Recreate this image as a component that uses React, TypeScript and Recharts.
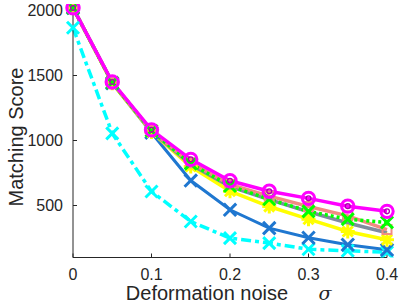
import React from "react";
import { LineChart, Line, XAxis, YAxis, Label } from "recharts";

const sigma = [0, 0.05, 0.1, 0.15, 0.2, 0.25, 0.3, 0.35, 0.4];
const magenta = [2020, 1450, 1082, 855, 690, 610, 555, 495, 455];
const green = [2020, 1445, 1075, 822, 650, 548, 455, 395, 370];
const salmon = [2020, 1445, 1075, 828, 662, 572, 492, 420, 315];
const gray = [2020, 1445, 1070, 815, 645, 545, 452, 365, 290];
const yellow = [2020, 1440, 1065, 800, 610, 492, 395, 300, 236];
const blue = [2020, 1440, 1060, 692, 467, 326, 252, 198, 159];
const cyan = [1867, 1055, 608, 377, 249, 211, 163, 152, 140];

const xTicks = [0, 0.1, 0.2, 0.3, 0.4];
const yTicks = [500, 1000, 1500, 2000];

const rows = sigma.map((s, i) => ({
  s,
  magenta: magenta[i],
  green: green[i],
  salmon: salmon[i],
  gray: gray[i],
  yellow: yellow[i],
  blue: blue[i],
  cyan: cyan[i],
}));

const FONT = "'Liberation Sans', Arial, sans-serif";
const AX = "#262626";

const xMark = (color: string, h: number, w: number) => (p: any) => {
  const { cx, cy, index } = p;
  return (
    <path
      key={index}
      d={`M${cx - h},${cy - h}L${cx + h},${cy + h}M${cx - h},${cy + h}L${cx + h},${cy - h}`}
      stroke={color}
      strokeWidth={w}
      fill="none"
    />
  );
};

const starMark = (color: string, h: number) => (p: any) => {
  const { cx, cy, index } = p;
  const d = h * 0.72;
  return (
    <path
      key={index}
      d={`M${cx - h},${cy}L${cx + h},${cy}M${cx},${cy - h}L${cx},${cy + h}M${cx - d},${cy - d}L${cx + d},${cy + d}M${cx - d},${cy + d}L${cx + d},${cy - d}`}
      stroke={color}
      strokeWidth={3}
      fill="none"
    />
  );
};

const squareMark = (color: string, h: number) => (p: any) => {
  const { cx, cy, index } = p;
  return (
    <rect key={index} x={cx - h} y={cy - h} width={2 * h} height={2 * h} stroke={color} strokeWidth={2} fill="none" />
  );
};

const circleMark = (color: string) => (p: any) => {
  const { cx, cy, index } = p;
  return (
    <g key={index}>
      <circle cx={cx} cy={cy} r={6.2} stroke={color} strokeWidth={3} fill="none" />
      <circle cx={cx} cy={cy} r={2.4} stroke="#b000b0" strokeWidth={1.3} fill="none" />
    </g>
  );
};

export default function App() {
  return (
    <div style={{ position: "absolute", left: 0, top: 0 }}>
      <LineChart width={399} height={306} data={rows} margin={{ top: 4, right: 12, bottom: 0, left: 0 }}>
        <XAxis
          dataKey="s"
          type="number"
          domain={[0, 0.4]}
          ticks={xTicks}
          height={48.5}
          tickSize={-4}
          tickMargin={15}
          stroke={AX}
          tick={{ fill: AX, fontSize: 16, fontFamily: FONT }}
        >
          <Label
            content={() => (
              <g>
                <text x={207} y={300} textAnchor="middle" fontSize={20} fontFamily={FONT} fill={AX}>
                  Deformation noise
                </text>
                <text x={325} y={300} textAnchor="middle" fontSize={19} fontStyle="italic" fontFamily="'DejaVu Serif', serif" fill={AX}>
                  σ
                </text>
              </g>
            )}
          />
        </XAxis>
        <YAxis
          type="number"
          domain={[100, 2050]}
          allowDataOverflow
          ticks={yTicks}
          width={73}
          tickSize={-4}
          tickMargin={14}
          stroke={AX}
          tick={{ fill: AX, fontSize: 16, fontFamily: FONT }}
        >
          <Label
            content={() => (
              <text
                x={16}
                y={137}
                transform="rotate(-90 16 137)"
                textAnchor="middle"
                dominantBaseline="central"
                fontSize={20}
                fontFamily={FONT}
                fill={AX}
              >
                Matching Score
              </text>
            )}
          />
        </YAxis>
        <Line dataKey="cyan" stroke="#00ffff" strokeWidth={3.5} strokeDasharray="10 4 4 4" dot={xMark("#00ffff", 6, 3)} isAnimationActive={false} />
        <Line dataKey="blue" stroke="#1f77d0" strokeWidth={3} dot={xMark("#1f77d0", 6.2, 3)} isAnimationActive={false} />
        <Line dataKey="yellow" stroke="#ffff00" strokeWidth={3.5} dot={starMark("#ffff00", 7)} isAnimationActive={false} />
        <Line dataKey="gray" stroke="#7f8c9e" strokeWidth={3.5} dot={false} isAnimationActive={false} />
        <Line dataKey="salmon" stroke="#f28b82" strokeWidth={3.5} dot={squareMark("#f28b82", 4.5)} isAnimationActive={false} />
        <Line dataKey="green" stroke="#00ff00" strokeWidth={3.5} strokeDasharray="3 3" dot={xMark("#00ff00", 6, 3)} isAnimationActive={false} />
        <Line dataKey="magenta" stroke="#ff00ff" strokeWidth={3.5} dot={circleMark("#ff00ff")} isAnimationActive={false} />
      </LineChart>
    </div>
  );
}
